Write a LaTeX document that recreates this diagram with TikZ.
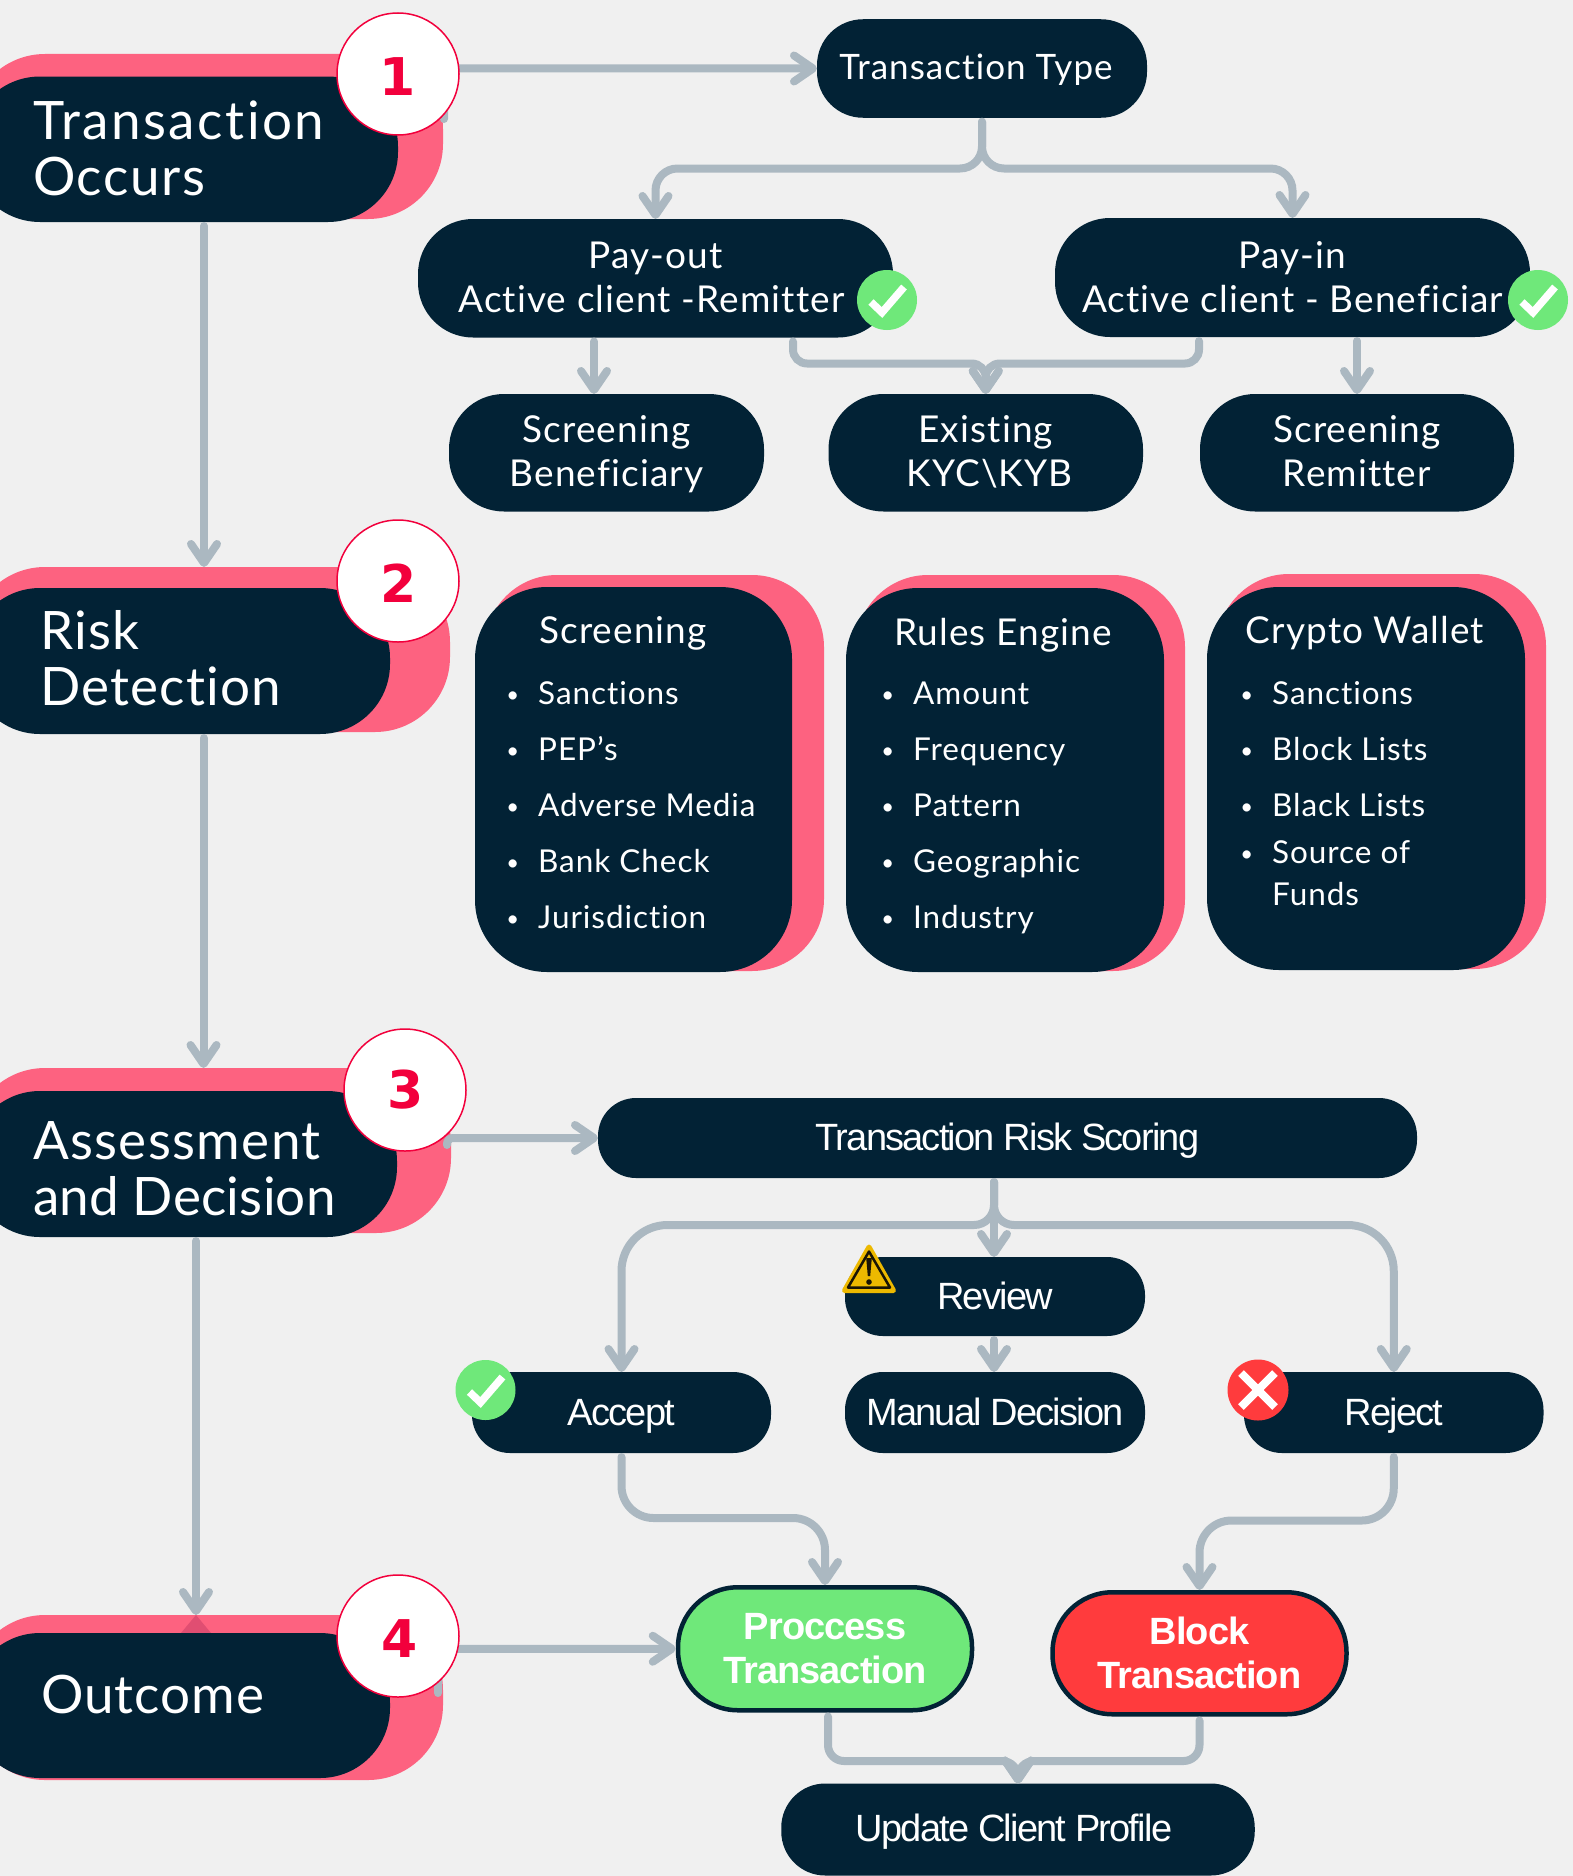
\documentclass[tikz,border=0pt]{standalone}
\usepackage{fontspec}
\setmainfont[LetterSpace=3,Ligatures=NoCommon]{Lato}
\newfontfamily\lowfont[LetterSpace=-4.7]{Liberation Sans}
\newfontfamily\boldlow[LetterSpace=-2.5]{Liberation Sans Bold}
\newfontfamily\numfont{DejaVu Sans}
\usetikzlibrary{arrows.meta,calc}
\definecolor{bgc}{HTML}{F0F0F0}
\definecolor{navy}{HTML}{022235}
\definecolor{rosy}{HTML}{FD6280}
\definecolor{rosedeep}{HTML}{E04E72}
\definecolor{crim}{HTML}{F2003C}
\definecolor{wire}{HTML}{ABB8C1}
\definecolor{okg}{HTML}{6FE87A}
\definecolor{nog}{HTML}{FF3B3D}
\definecolor{warn}{HTML}{EDB900}
\definecolor{warnk}{HTML}{1A1505}
\tikzset{
  x=1pt,y=-1pt,
  pill/.style={rectangle,rounded corners=#1,fill=navy,inner sep=0pt,outer sep=0pt,text=white,align=center},
  rosebox/.style={rectangle,rounded corners=#1,fill=rosy,inner sep=0pt,outer sep=0pt},
  conn/.style={draw=wire,line width=8pt,line cap=round,rounded corners=22pt,shorten <=4pt,
    -{Straight Barb[length=19pt,width=26pt,line width=8pt,round]}},
  numdisc/.style={circle,fill=white,draw=crim,line width=1.5pt,minimum size=122pt,inner sep=0pt,outer sep=0pt},
  numtxt/.style={inner sep=0pt,text=crim,font=\numfont\bfseries\fontsize{52}{52}\selectfont},
  bigtxt/.style={text=white,align=left,inner sep=0pt,font=\fontsize{53}{55.5}\selectfont},
  midtxt/.style={font=\fontsize{37}{44}\selectfont},
  headtxt/.style={text=white,inner sep=0pt,anchor=base,font=\fontsize{37}{44}\selectfont},
  itemtxt/.style={text=white,inner sep=0pt,anchor=base west,font=\fontsize{31.5}{41}\selectfont},
  lowtxt/.style={font=\lowfont\fontsize{38}{44}\selectfont,text height=32pt,text depth=8pt},
  boldtxt/.style={font=\boldlow\fontsize{38}{44}\selectfont},
  okbadge/.style={circle,fill=okg,minimum size=60pt,inner sep=0pt,outer sep=0pt},
  nobadge/.style={circle,fill=nog,minimum size=61pt,inner sep=0pt,outer sep=0pt},
  tick/.style={draw=white,line width=7.5pt},
  cross/.style={draw=white,line width=8pt},
}
\newcommand\bul{\llap{\raisebox{2pt}{\scalebox{0.7}{\textbullet}}\hspace{19pt}}}
\newcommand\tickin[1]{\draw[tick] ($(#1)+(-16,2)$) -- ($(#1)+(-5,12.5)$) -- ($(#1)+(17,-13)$);}
\newcommand\tw[3]{\rule{0pt}{#1}#2\\#3\rule[-9pt]{0pt}{9pt}}
\newcommand\ls[2]{{\addfontfeature{LetterSpace=#1}#2}}
\begin{document}
\begin{tikzpicture}
\path[use as bounding box,fill=bgc] (0,0) rectangle (1573,1876);

% step boxes
\node[rosebox=75pt,minimum width=473pt,minimum height=165pt] (p1) at (206.5,136.5) {};
\node[pill=70pt,minimum width=428pt,minimum height=145.5pt] (n1) at (184,149.25) {};
\node[bigtxt,anchor=west] (l1) at (33,148.5) {\ls{4.7}{Transaction}\\\ls{3}{Occurs}};
\node[rosebox=75pt,minimum width=480pt,minimum height=165pt] (p2) at (210,649.5) {};
\node[pill=70pt,minimum width=420pt,minimum height=146pt] (n2) at (180,661) {};
\node[bigtxt,anchor=west] (l2) at (40,658) {\ls{2.2}{Risk}\\\ls{2.2}{Detection}};
\node[rosebox=75pt,minimum width=481pt,minimum height=165pt] (p3) at (210.5,1150.5) {};
\node[pill=70pt,minimum width=427pt,minimum height=146pt] (n3) at (183.5,1164) {};
\node[bigtxt,anchor=west] (l3) at (33,1168.5) {\ls{2.5}{Assessment}\\\ls{0.4}{and Decision}};
\node[rosebox=75pt,minimum width=473pt,minimum height=165pt] (p4) at (206.5,1697.5) {};
\coordinate (gA) at (196,1615);
\coordinate (gB) at (181,1633);
\coordinate (gC) at (211,1633);
\fill[rosedeep] (gA) -- (gB) -- (gC) -- cycle;
\node[pill=70pt,minimum width=420pt,minimum height=145pt] (n4) at (180,1705.5) {};
\node[bigtxt,anchor=west] (l4) at (41,1694) {\ls{2}{Outcome}};

% top branch
\node[pill=46pt,minimum width=330pt,minimum height=98.5pt,midtxt,font=\fontsize{35}{44}\selectfont,text height=30pt,text depth=8pt] (tt) at (982,68.5) {Transaction Type\hspace*{12pt}};
\node[pill=55pt,minimum width=475pt,minimum height=118.5pt,midtxt] (po) at (655.5,278.25) {\tw{34pt}{Pay-out}{Active client -Remitter\hspace*{8pt}}};
\node[pill=55pt,minimum width=475pt,minimum height=119pt,midtxt] (pi) at (1292.5,277.5) {\tw{34pt}{Pay-in}{Active client - Beneficiar}};
\node[pill=55pt,minimum width=315pt,minimum height=117.5pt,midtxt] (sb) at (606.5,452.75) {\tw{32pt}{Screening}{Beneficiary}};
\node[pill=55pt,minimum width=314.5pt,minimum height=117.5pt,midtxt] (ek) at (985.75,452.75) {\tw{32pt}{Existing}{\hspace*{8pt}KYC\textbackslash KYB}};
\node[pill=55pt,minimum width=314pt,minimum height=117.5pt,midtxt] (sr) at (1357,452.75) {\tw{32pt}{Screening}{Remitter}};

% panels
\node[rosebox=72pt,minimum width=339pt,minimum height=396pt] (k1) at (654.5,773) {};
\node[pill=72pt,minimum width=317pt,minimum height=385pt] (d1) at (633.5,779.5) {};
\node[rosebox=72pt,minimum width=329pt,minimum height=396pt] (k2) at (1020.5,773) {};
\node[pill=72pt,minimum width=318pt,minimum height=384pt] (d2) at (1005,780) {};
\node[rosebox=72pt,minimum width=329pt,minimum height=395pt] (k3) at (1381.5,771.5) {};
\node[pill=72pt,minimum width=318pt,minimum height=383pt] (d3) at (1366,778.5) {};

\node[headtxt] (h1) at (623,643) {Screening};
\node[itemtxt] (a1) at (538,704) {\bul Sanctions};
\node[itemtxt] (a2) at (538,760) {\bul PEP’s};
\node[itemtxt] (a3) at (538,816) {\bul Adverse Media};
\node[itemtxt] (a4) at (538,872) {\bul Bank Check};
\node[itemtxt] (a5) at (538,928) {\bul Jurisdiction};

\node[headtxt] (h2) at (1003,645) {Rules Engine};
\node[itemtxt] (b1) at (913,704) {\bul Amount};
\node[itemtxt] (b2) at (913,760) {\bul Frequency};
\node[itemtxt] (b3) at (913,816) {\bul Pattern};
\node[itemtxt] (b4) at (913,872) {\bul Geographic};
\node[itemtxt] (b5) at (913,928) {\bul Industry};

\node[headtxt] (h3) at (1365,643) {Crypto Wallet};
\node[itemtxt] (c1) at (1272,704) {\bul Sanctions};
\node[itemtxt] (c2) at (1272,760) {\bul Block Lists};
\node[itemtxt] (c3) at (1272,816) {\bul Black Lists};
\node[itemtxt] (c4) at (1272,863) {\bul Source of};
\node[itemtxt] (c5) at (1272,905) {Funds};

% lower block
\node[pill=38pt,minimum width=819pt,minimum height=80pt,lowtxt] (rs) at (1007.5,1138) {Transaction Risk Scoring};
\node[pill=38pt,minimum width=300pt,minimum height=79pt,lowtxt,text height=34pt] (rv) at (995,1296.5) {Review};
\node[pill=38pt,minimum width=300pt,minimum height=81pt,lowtxt,text height=34pt] (md) at (995,1412.5) {Manual Decision};
\node[pill=38pt,minimum width=299pt,minimum height=81pt,lowtxt,text height=34pt] (ac) at (621.5,1412.5) {Accept};
\node[pill=38pt,minimum width=299.5pt,minimum height=81pt,lowtxt,text height=34pt] (rj) at (1393.75,1412.5) {Reject};
\node[rectangle,rounded corners=60pt,fill=okg,draw=navy,line width=4.5pt,minimum width=294pt,minimum height=123pt,inner sep=0pt,outer sep=2.25pt,text=white,align=center,boldtxt] (pr) at (825,1648.75) {Proccess\\Transaction};
\node[rectangle,rounded corners=60pt,fill=nog,draw=navy,line width=4.5pt,minimum width=294pt,minimum height=122pt,inner sep=0pt,outer sep=2.25pt,text=white,align=center,boldtxt] (bl) at (1199.5,1653.25) {Block\\Transaction};
\node[pill=44pt,minimum width=473.5pt,minimum height=92pt,lowtxt] (uc) at (1018,1829.5) {Update Client Profile\hspace*{8pt}};

% helper coordinates
\coordinate (stubA) at (444,123);
\coordinate (stubB) at (447,1149);
\coordinate (stubC) at (438,1697);
\coordinate (busA) at (982,168.5);
\coordinate (xA) at (594,0);
\coordinate (xB) at (793,0);
\coordinate (xC) at (1199,0);
\coordinate (xD) at (1357,0);
\coordinate (yA) at (0,363.5);
\coordinate (xE) at (204,0);
\coordinate (xF) at (203.5,0);
\coordinate (xG) at (196,0);
\coordinate (busB) at (994,1225);
\coordinate (yB) at (0,1518);
\coordinate (yC) at (0,1520.5);
\coordinate (yD) at (0,1761);
\coordinate (xH) at (828,0);

% connectors
\draw[conn,rounded corners=8pt] (stubA) |- (tt.west);
\draw[conn] (tt.south) -- (busA) -| (po.north);
\draw[conn] (tt.south) -- (busA) -| (pi.north);
\draw[conn] (po.south -| xA) -- (sb.north -| xA);
\draw[conn,rounded corners=14pt] (po.south -| xB) |- (yA -| ek.north) -- (ek.north);
\draw[conn,rounded corners=14pt] (pi.south -| xC) |- (yA -| ek.north) -- (ek.north);
\draw[conn] (pi.south -| xD) -- (sr.north -| xD);
\draw[conn] (n1.south -| xE) -- (p2.north -| xE);
\draw[conn] (n2.south -| xF) -- (p3.north -| xF);
\draw[conn] (n3.south -| xG) -- (p4.north -| xG);
\draw[conn,rounded corners=6pt] (stubB) |- (rs.west);
\draw[conn,rounded corners=20pt] (rs.south -| busB) -- (busB) [rounded corners=46pt] -| (ac.north);
\draw[conn,rounded corners=20pt] (rs.south -| busB) -- (busB) [rounded corners=46pt] -| (rj.north);
\draw[conn] (rs.south -| busB) -- (rv.north -| busB);
\draw[conn] (rv.south -| busB) -- (md.north -| busB);
\draw[conn,rounded corners=32pt] (ac.south) |- (yB -| pr.north) -- (pr.north);
\draw[conn,rounded corners=32pt] (rj.south) |- (yC -| bl.north) -- (bl.north);
\draw[conn,rounded corners=8pt] (stubC) |- (pr.west);
\draw[conn,rounded corners=16pt] (pr.south -| xH) |- (yD -| uc.north) -- (uc.north);
\draw[conn,rounded corners=16pt] (bl.south) |- (yD -| uc.north) -- (uc.north);

% number discs
\node[numdisc] (c1n) at (398,74) {};
\node[numtxt] (t1n) at (398,76.4) {1};
\node[numdisc] (c2n) at (398,581) {};
\node[numtxt] (t2n) at (399,583.4) {2};
\node[numdisc] (c3n) at (405,1090) {};
\node[numtxt] (t3n) at (405.5,1090) {3};
\node[numdisc] (c4n) at (398,1636) {};
\node[numtxt] (t4n) at (400,1638.4) {4};

% badges
\node[okbadge] (ok1) at (887,300) {}; \tickin{ok1}
\node[okbadge] (ok2) at (1538,300) {}; \tickin{ok2}
\node[okbadge] (ok3) at (485.5,1390) {}; \tickin{ok3}
\node[nobadge] (no1) at (1258,1390) {};
\draw[cross] ($(no1)+(-17,-17)$) -- ($(no1)+(17,17)$);
\draw[cross] ($(no1)+(-17,17)$) -- ($(no1)+(17,-17)$);
\coordinate (wA) at (869,1247);
\coordinate (wB) at (844.5,1290.5);
\coordinate (wC) at (893.5,1290.5);
\draw[fill=warn,draw=warn,line width=5pt,line join=round] (wA) -- (wB) -- (wC) -- cycle;
\draw[warnk,line width=2.5pt,line join=round] (869,1251.5) -- (848,1287.5) -- (890,1287.5) -- cycle;
\fill[warnk] (866.2,1258) -- (871.8,1258) -- (870.2,1276) -- (867.8,1276) -- cycle;
\fill[warnk] (869,1282) circle (2.8pt);
\end{tikzpicture}
\end{document}
